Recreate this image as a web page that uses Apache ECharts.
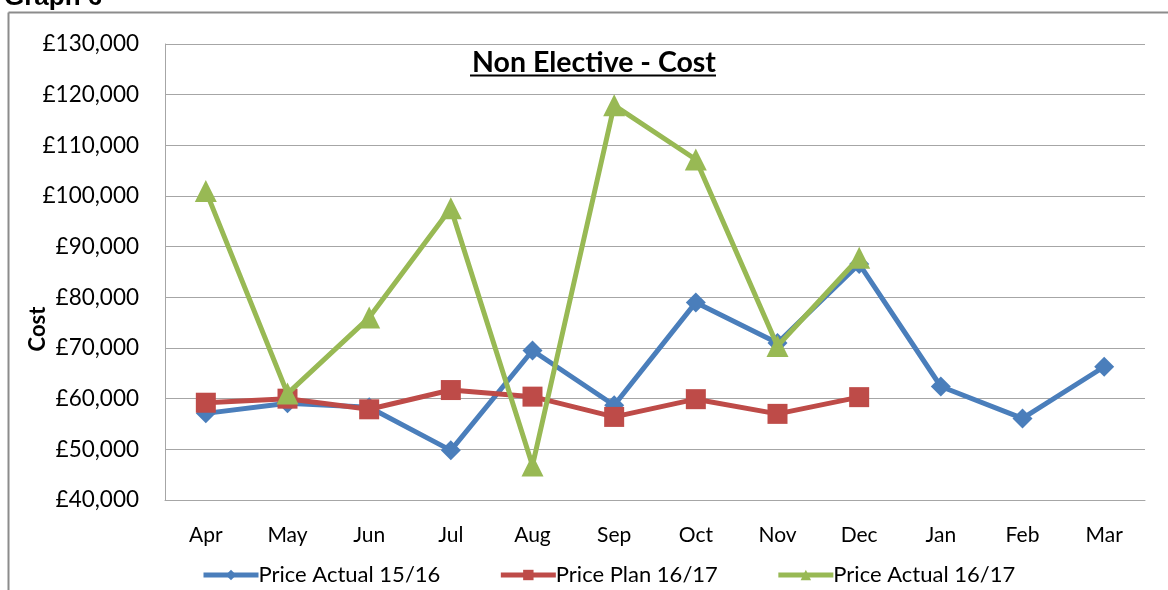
<!DOCTYPE html>
<html>
<head>
<meta charset="utf-8">
<script src="https://cdn.jsdelivr.net/npm/echarts@6/dist/echarts.min.js"></script>
<style>
html,body{margin:0;padding:0;background:#fff;}
#c{width:1168px;height:590px;}
</style>
</head>
<body>
<div id="c"></div>
<script>
var months = ['Apr','May','Jun','Jul','Aug','Sep','Oct','Nov','Dec','Jan','Feb','Mar'];
var actual1516 = [57100, 59100, 58300, 49800, 69500, 58700, 79000, 71000, 86600, 62400, 56100, 66300];
var plan1617 = [59200, 60000, 57900, 61700, 60400, 56400, 59900, 57000, 60300, null, null, null];
var actual1617 = [101000, 61000, 76000, 97600, 46800, 117900, 107200, 70400, 87800, null, null, null];
var seriesNames = ['Price Actual 15/16', 'Price Plan 16/17', 'Price Actual 16/17'];
var yTicks = {min: 40000, max: 130000, step: 10000};

var FONT = 'Lato, "Liberation Sans", sans-serif';
var colors = ['#4a7ebb', '#be4b48', '#98b954'];
var chart = echarts.init(document.getElementById('c'), null, {renderer: 'canvas'});
function fmt(v){ return '£' + v.toLocaleString('en-GB'); }
chart.setOption({
  animation: false,
  backgroundColor: '#fff',
  title: {
    text: 'Non Elective - Cost',
    left: 589, top: 43, textAlign: 'center',
    textStyle: {fontFamily: FONT, fontSize: 28.5, fontWeight: 'bold', color: '#000'}
  },
  graphic: [
    {type: 'line', shape: {x1: 8.5, y1: 12.5, x2: 1168, y2: 12.5}, style: {stroke: '#8c8c8c', lineWidth: 2}},
    {type: 'line', shape: {x1: 8.5, y1: 12.5, x2: 8.5, y2: 590}, style: {stroke: '#8c8c8c', lineWidth: 2}},
    {type: 'text', left: 4, top: -15, style: {text: 'Graph 6', font: 'bold 26px Arial', fill: '#000'}},
    {type: 'line', shape: {x1: 470, y1: 75.5, x2: 716, y2: 75.5}, style: {stroke: '#000', lineWidth: 2}},
    {type: 'text', x: 38, y: 329, rotation: Math.PI/2,
     style: {text: 'Cost', font: 'bold 22px ' + FONT, fill: '#000', textAlign: 'center', textVerticalAlign: 'middle'}}
  ],
  legend: {
    bottom: -1, left: 196,
    itemWidth: 55, itemHeight: 13, itemGap: 58,
    textStyle: {fontFamily: FONT, fontSize: 22, color: '#000', padding: [0,0,0,-5]},
    data: seriesNames.map(function(n, i){
      return {name: n, lineStyle: {width: 5, color: colors[i]}, itemStyle: {color: colors[i]}};
    })
  },
  grid: {left: 165, right: 23, top: 44, bottom: 90},
  xAxis: {
    type: 'category', data: months, boundaryGap: true,
    axisLine: {lineStyle: {color: '#a6a6a6', width: 1}},
    axisTick: {show: false},
    axisLabel: {fontFamily: FONT, fontSize: 21, color: '#000', margin: 25}
  },
  yAxis: {
    type: 'value', min: yTicks.min, max: yTicks.max, interval: yTicks.step,
    axisLine: {show: true, lineStyle: {color: '#a6a6a6', width: 1}},
    axisTick: {show: false},
    splitLine: {lineStyle: {color: '#a6a6a6', width: 1}},
    axisLabel: {formatter: fmt, fontFamily: FONT, fontSize: 22.5, color: '#000', margin: 26}
  },
  series: [
    {name: seriesNames[0], type: 'line', data: actual1516, symbol: 'diamond', symbolSize: 20,
     itemStyle: {color: colors[0]}, lineStyle: {width: 5, color: colors[0]}, z: 3},
    {name: seriesNames[1], type: 'line', data: plan1617, symbol: 'rect', symbolSize: 20,
     itemStyle: {color: colors[1]}, lineStyle: {width: 5, color: colors[1]}, z: 4},
    {name: seriesNames[2], type: 'line', data: actual1617, symbol: 'triangle', symbolSize: 22,
     itemStyle: {color: colors[2]}, lineStyle: {width: 5, color: colors[2]}, z: 5}
  ]
});
</script>
</body>
</html>
